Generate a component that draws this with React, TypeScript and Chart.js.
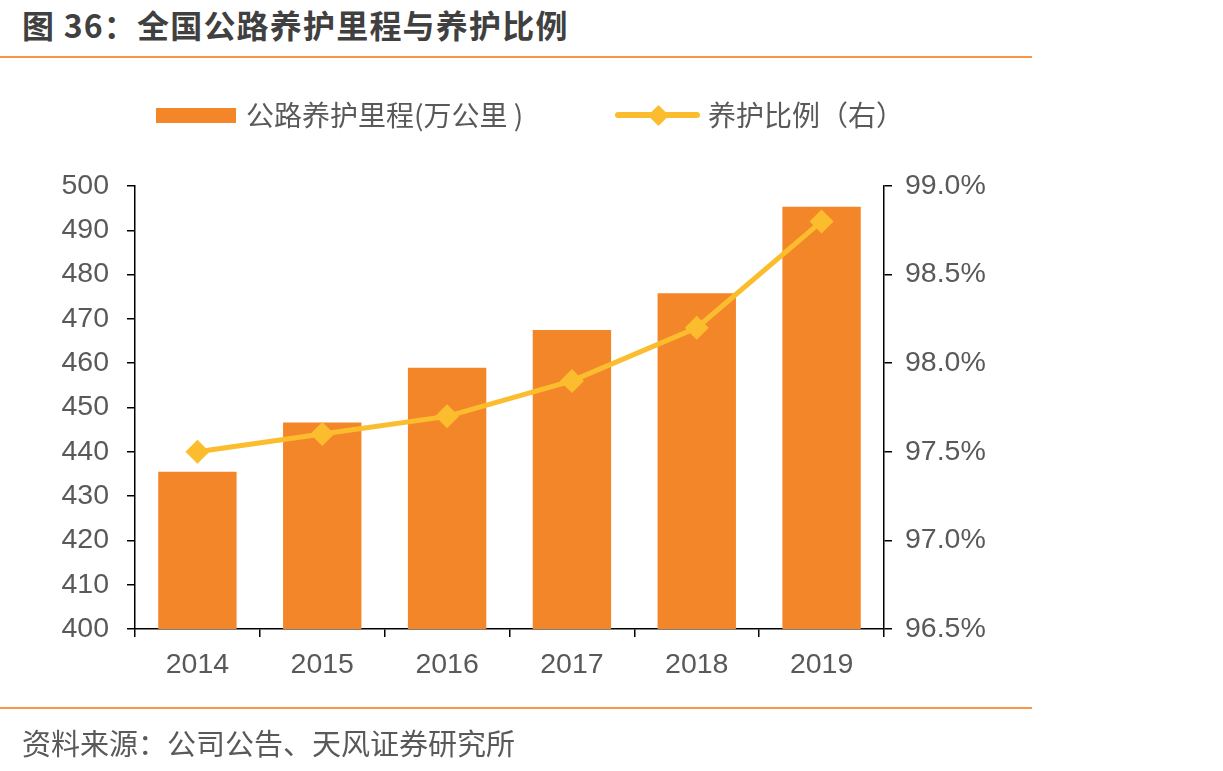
import React, { useEffect, useRef } from "react";
import { Chart, registerables } from "chart.js";

Chart.register(...registerables);

// Highway maintenance mileage (10k km) and maintenance ratio (%)
const years = ["2014", "2015", "2016", "2017", "2018", "2019"];
const mileage = [435.5, 446.6, 459.0, 467.5, 475.8, 495.3];
const ratio = [97.5, 97.6, 97.7, 97.9, 98.2, 98.8];

const BAR_COLOR = "#F4862A";
const LINE_COLOR = "#FBBD2E";
const TEXT_COLOR = "#595959";
const RULE_COLOR = "#F79646";
const CJK = '"Noto Sans CJK SC", "Noto Sans", sans-serif';
const LATIN = '"Liberation Sans", Arial, sans-serif';

const W = 1223;
const H = 771;
// plot area edges
const AREA_LEFT = 135;
const AREA_RIGHT = 884;
const AREA_TOP = 186;
const AREA_BOTTOM = 629;
const RIGHT_AXIS_W = 120;
const X_AXIS_H = 55;

export default function App() {
  const canvasRef = useRef<HTMLCanvasElement | null>(null);

  useEffect(() => {
    const canvas = canvasRef.current;
    if (!canvas) return;
    const tickFont = { family: LATIN, size: 28.5 };
    const chart = new Chart(canvas, {
      type: "bar",
      data: {
        labels: years,
        datasets: [
          {
            type: "line",
            label: "养护比例（右）",
            data: ratio,
            yAxisID: "y1",
            borderColor: LINE_COLOR,
            backgroundColor: LINE_COLOR,
            borderWidth: 5,
            pointStyle: "rectRot",
            pointRadius: 12,
            pointBorderWidth: 0,
            pointBackgroundColor: LINE_COLOR,
            tension: 0,
            order: 0,
          } as any,
          {
            type: "bar",
            label: "公路养护里程(万公里 )",
            data: mileage,
            yAxisID: "y",
            backgroundColor: BAR_COLOR,
            borderWidth: 0,
            categoryPercentage: 1,
            barPercentage: 0.628,
            order: 1,
          },
        ],
      },
      options: {
        animation: false,
        responsive: false,
        devicePixelRatio: 1,
        layout: {
          padding: {
            left: 0,
            right: W - AREA_RIGHT - RIGHT_AXIS_W,
            top: AREA_TOP,
            bottom: H - AREA_BOTTOM - X_AXIS_H,
          },
        },
        plugins: {
          legend: { display: false },
          tooltip: { enabled: false },
          title: { display: false },
        },
        scales: {
          x: {
            offset: true,
            grid: {
              display: true,
              offset: true,
              drawOnChartArea: false,
              drawTicks: true,
              tickLength: 8,
              color: "#000",
              lineWidth: 1.5,
            },
            border: { display: true, color: "#000", width: 1.5 },
            ticks: { color: TEXT_COLOR, font: tickFont, padding: 11, maxRotation: 0 },
            afterFit: (s: any) => {
              s.height = X_AXIS_H;
            },
          },
          y: {
            position: "left",
            min: 400,
            max: 500,
            ticks: {
              stepSize: 10,
              color: TEXT_COLOR,
              font: tickFont,
              padding: 18,
            },
            grid: {
              display: true,
              drawOnChartArea: false,
              drawTicks: true,
              tickLength: 8,
              color: "#000",
              lineWidth: 1.5,
            },
            border: { display: true, color: "#000", width: 1.5 },
            afterFit: (s: any) => {
              s.width = AREA_LEFT;
            },
          },
          y1: {
            position: "right",
            min: 96.5,
            max: 99,
            ticks: {
              stepSize: 0.5,
              color: TEXT_COLOR,
              font: tickFont,
              padding: 13,
              callback: (v: any) => Number(v).toFixed(1) + "%",
            },
            grid: {
              display: true,
              drawOnChartArea: false,
              drawTicks: true,
              tickLength: 8,
              color: "#000",
              lineWidth: 1.5,
            },
            border: { display: true, color: "#000", width: 1.5 },
            afterFit: (s: any) => {
              s.width = RIGHT_AXIS_W;
            },
          },
        },
      },
    });
    return () => chart.destroy();
  }, []);

  return (
    <div
      style={{
        position: "absolute",
        left: 0,
        top: 0,
        width: W,
        height: H,
        background: "#fff",
        overflow: "hidden",
      }}
    >
      <div
        style={{
          position: "absolute",
          left: 22,
          top: 1,
          fontFamily: CJK,
          fontWeight: 700,
          fontSize: 32,
          lineHeight: "46px",
          color: "#404040",
          letterSpacing: 1.2,
          whiteSpace: "nowrap",
        }}
      >
        图 36：全国公路养护里程与养护比例
      </div>
      <div
        style={{
          position: "absolute",
          left: 0,
          top: 56,
          width: 1032,
          height: 2,
          background: RULE_COLOR,
        }}
      />
      <canvas
        ref={canvasRef}
        width={W}
        height={H}
        style={{ position: "absolute", left: 0, top: 0, width: W, height: H }}
      />
      {/* legend */}
      <div
        style={{
          position: "absolute",
          left: 156,
          top: 108,
          width: 80,
          height: 15,
          background: BAR_COLOR,
        }}
      />
      <div
        style={{
          position: "absolute",
          left: 246,
          top: 94,
          fontFamily: CJK,
          fontSize: 28,
          lineHeight: "40px",
          color: TEXT_COLOR,
          whiteSpace: "nowrap",
        }}
      >
        公路养护里程(万公里 )
      </div>
      <div
        style={{
          position: "absolute",
          left: 615,
          top: 112,
          width: 85,
          height: 6,
          borderRadius: 3,
          background: LINE_COLOR,
        }}
      />
      <div
        style={{
          position: "absolute",
          left: 651,
          top: 108,
          width: 15,
          height: 15,
          transform: "rotate(45deg)",
          background: LINE_COLOR,
        }}
      />
      <div
        style={{
          position: "absolute",
          left: 708,
          top: 94,
          fontFamily: CJK,
          fontSize: 28,
          lineHeight: "40px",
          color: TEXT_COLOR,
          whiteSpace: "nowrap",
        }}
      >
        养护比例（右）
      </div>
      <div
        style={{
          position: "absolute",
          left: 0,
          top: 707,
          width: 1032,
          height: 2,
          background: RULE_COLOR,
        }}
      />
      <div
        style={{
          position: "absolute",
          left: 22,
          top: 722,
          fontFamily: CJK,
          fontSize: 29,
          lineHeight: "40px",
          color: TEXT_COLOR,
          whiteSpace: "nowrap",
        }}
      >
        资料来源：公司公告、天风证券研究所
      </div>
    </div>
  );
}
